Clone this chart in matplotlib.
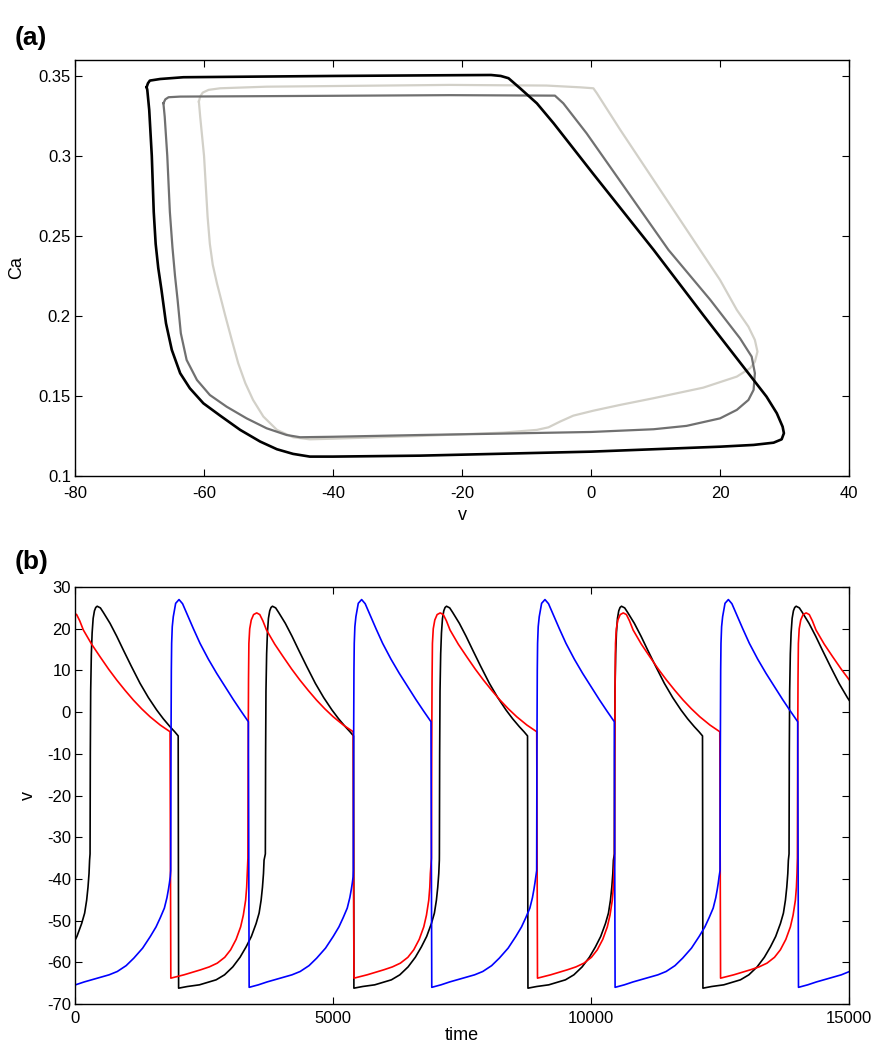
import numpy as np
import matplotlib
matplotlib.use("Agg")
from matplotlib import pyplot

pyplot.rcParams['font.family'] = ['Liberation Sans', 'DejaVu Sans']
pyplot.rcParams['axes.unicode_minus'] = False

# ---- panel (a): limit cycles in the (v, Ca) plane, read clockwise from the top-left corner ----
black_loop_v = [-68.9, -68.7, -68.4, -66.8, -63.2, -40.0, -20.0, -15.5, -14.0, -12.8, -11.0,
                -8.4, -5.8, 0.3, 9.7, 17.5, 25.2, 27.2, 28.8, 29.7, 29.9, 29.55, 28.3, 25.2,
                20.0, 9.7, 0.0, -26.5, -40.0, -43.6, -46.2, -48.7, -51.3, -54.4, -57.5, -60.1,
                -62.2, -63.7, -65.0, -65.9, -66.6, -67.1, -67.5, -67.8, -68.1, -68.5, -68.8,
                -68.9]
black_loop_ca = [0.3430, 0.3454, 0.3471, 0.3481, 0.3492, 0.3500, 0.3505, 0.3506, 0.3500, 0.3486,
                 0.3423, 0.3329, 0.3204, 0.289, 0.2413, 0.200, 0.160, 0.1496, 0.1392, 0.1308,
                 0.1267, 0.1229, 0.1208, 0.1194, 0.1183, 0.1167, 0.1152, 0.1127, 0.1121, 0.1121,
                 0.1138, 0.1167, 0.1215, 0.1288, 0.1377, 0.1454, 0.1548, 0.1642, 0.1788, 0.1954,
                 0.2163, 0.230, 0.245, 0.265, 0.300, 0.3288, 0.3413, 0.3430]

dark_loop_v = [-66.3, -66.0, -65.5, -63.7, -40.0, -21.9, -5.6, -4.3, -3.3, -0.7, 12.0, 18.5,
               23.1, 24.9, 25.4, 25.2, 24.4, 22.6, 20.0, 14.8, 9.7, 0.0, -16.2, -26.5, -40.0,
               -45.1, -47.2, -50.3, -53.4, -56.5, -59.1, -61.1, -62.7, -63.6, -64.1, -64.5,
               -64.9, -65.3, -65.7, -66.1, -66.3]
dark_loop_ca = [0.3329, 0.3354, 0.3367, 0.3371, 0.3376, 0.3380, 0.3377, 0.3329, 0.3277, 0.3142,
                0.2413, 0.210, 0.186, 0.1746, 0.1642, 0.1538, 0.1475, 0.1413, 0.1360, 0.1313,
                0.1292, 0.1275, 0.1263, 0.1256, 0.1245, 0.1242, 0.1256, 0.1298, 0.1360, 0.1433,
                0.1506, 0.1600, 0.1725, 0.1892, 0.210, 0.225, 0.243, 0.265, 0.300, 0.3246, 0.3329]

light_loop_v = [-60.8, -60.6, -60.2, -59.3, -57.5, -50.3, -21.9, -6.9, -1.7, 0.36, 0.9, 4.5,
                16.9, 20.0, 22.6, 24.4, 25.4, 25.8, 25.4, 24.65, 22.6, 17.4, 9.7, 4.5, 0.36,
                -2.75, -4.8, -6.6, -8.4, -13.6, -26.5, -40.0, -43.6, -46.2, -48.7, -50.8, -52.4,
                -53.6, -54.7, -55.7, -56.7, -58.0, -58.65, -59.1, -59.45, -60.0, -60.6, -60.8]
light_loop_ca = [0.3340, 0.3371, 0.3396, 0.3413, 0.3423, 0.3433, 0.3444, 0.3440, 0.3429, 0.3423,
                 0.3392, 0.3165, 0.2413, 0.2225, 0.2038, 0.1933, 0.1850, 0.1777, 0.1714, 0.1673,
                 0.1621, 0.1552, 0.1486, 0.1444, 0.1408, 0.1377, 0.1340, 0.1304, 0.1288, 0.1271,
                 0.1250, 0.1233, 0.1229, 0.1242, 0.1288, 0.1371, 0.1475, 0.1580, 0.1704, 0.1850,
                 0.200, 0.2204, 0.232, 0.245, 0.262, 0.300, 0.3246, 0.3340]

# ---- panel (b): one spike cycle per trace (ms after upstroke, mV) and upstroke times (ms) ----
black_cycle_t = [0, 5, 12, 25, 40, 60, 85, 110, 138, 200, 258, 387, 517, 645, 800, 969, 1130,
                 1292, 1420, 1550, 1640, 1708, 1716, 1886, 2120, 2443, 2606, 2766, 2906, 3024,
                 3126, 3218, 3276, 3315, 3341, 3361, 3372]
black_cycle_v = [-34, -10, 5, 14, 19, 22.5, 24.3, 25.1, 25.4, 25.0, 23.9, 21.3, 18.2, 14.9, 11.0,
                 6.9, 3.5, 0.5, -1.6, -3.5, -4.7, -5.7, -66.2, -65.8, -65.4, -64.2, -63.0, -61.1,
                 -58.8, -56.3, -53.8, -50.7, -48.2, -45.1, -42.0, -38.7, -35.5]
black_upstrokes = [-3090, 291, 3688, 7061, 10452, 13837]

red_cycle_t = [0, 5, 12, 19, 35, 65, 110, 170, 230, 290, 360, 520, 683, 850, 1007, 1170, 1329,
               1490, 1652, 1850, 2040, 2055, 2310, 2632, 2800, 2955, 3100, 3214, 3320, 3408,
               3460, 3505, 3525, 3536]
red_cycle_v = [-35, -10, 8, 16.5, 20.0, 22.1, 23.4, 23.8, 23.4, 21.9, 19.7, 16.3, 13.3, 10.3,
               7.7, 5.2, 2.9, 0.8, -1.1, -3.1, -4.7, -63.8, -63.0, -61.8, -61.1, -60.2, -58.8,
               -57.0, -54.5, -51.5, -48.7, -45.1, -42.0, -38.7]
red_upstrokes = [-199, 3350, 6907, 10455, 13999]

blue_cycle_t = [0, 5, 12, 18, 30, 50, 96, 161, 230, 310, 440, 568, 730, 891, 1050, 1214, 1360,
                1505, 1520, 1699, 1869, 2179, 2350, 2509, 2680, 2829, 3000, 3149, 3260, 3342,
                3421, 3471, 3500, 3519, 3535]
blue_cycle_v = [-38, -10, 10, 16.5, 20.5, 22.9, 26.1, 27.0, 26.0, 23.7, 20.0, 16.5, 12.7, 9.3,
                6.2, 3.0, 0.3, -2.3, -66.0, -65.4, -64.7, -63.6, -63.0, -62.2, -60.8, -59.0,
                -56.6, -53.8, -51.5, -49.3, -47.0, -44.5, -42.5, -41.0, -39.5]
blue_upstrokes = [-1690, 1854, 5393, 8946, 12500]


def place_cycles(upstrokes, cyc_t, cyc_v):
    '''put one copy of the cycle at every upstroke, cut at the next one'''
    ts, vs = [], []
    for i, u in enumerate(upstrokes):
        end = upstrokes[i + 1] if i + 1 < len(upstrokes) else np.inf
        for t, v in zip(cyc_t, cyc_v):
            if u + t < end:
                ts.append(u + t)
                vs.append(v)
    return ts, vs


def style_axes(ax, xpad):
    ax.tick_params(direction='in', top=True, right=True, length=5, width=0.8,
                   labelsize=12, colors='black')
    ax.tick_params(axis='x', pad=xpad)
    ax.tick_params(axis='y', pad=3)
    for s in ax.spines.values():
        s.set_linewidth(1.0)


fig = pyplot.figure(figsize=(8.86, 10.5), dpi=100)

ax_a = fig.add_axes([0.0847, 0.5467, 0.8736, 0.3962])
ax_a.plot(light_loop_v, light_loop_ca, color='#d2d0c8', lw=1.6, solid_joinstyle='round')
ax_a.plot(dark_loop_v, dark_loop_ca, color='#707070', lw=1.6, solid_joinstyle='round')
ax_a.plot(black_loop_v, black_loop_ca, color='black', lw=1.9, solid_joinstyle='round')
ax_a.set_xlim(-80, 40)
ax_a.set_ylim(0.1, 0.36)
ax_a.set_xticks([-80, -60, -40, -20, 0, 20, 40])
ax_a.set_yticks([0.1, 0.15, 0.2, 0.25, 0.3, 0.35])
ax_a.set_yticklabels(['0.1', '0.15', '0.2', '0.25', '0.3', '0.35'])
style_axes(ax_a, 7.5)
ax_a.set_xlabel('v', fontsize=13)
ax_a.set_ylabel('Ca', fontsize=13)
ax_a.xaxis.set_label_coords(0.5, -0.0755)
ax_a.yaxis.set_label_coords(-0.0646, 0.5)

ax_b = fig.add_axes([0.0847, 0.0438, 0.8736, 0.3971])
for ups, ct, cv, col in [(black_upstrokes, black_cycle_t, black_cycle_v, 'black'),
                         (red_upstrokes, red_cycle_t, red_cycle_v, '#ff0000'),
                         (blue_upstrokes, blue_cycle_t, blue_cycle_v, '#0000ff')]:
    tt, vv = place_cycles(ups, ct, cv)
    ax_b.plot(tt, vv, color=col, lw=1.2, solid_joinstyle='round')
ax_b.set_xlim(0, 15000)
ax_b.set_ylim(-70, 30)
ax_b.set_xticks([0, 5000, 10000, 15000])
ax_b.set_yticks(range(-70, 31, 10))
style_axes(ax_b, 5)
ax_b.set_xlabel('time', fontsize=13)
ax_b.set_ylabel('v', fontsize=13)
ax_b.xaxis.set_label_coords(0.5, -0.0544)
ax_b.yaxis.set_label_coords(-0.0497, 0.5)

fig.text(15 / 886, 1 - 44.5 / 1050, '(a)', fontsize=19, fontweight='bold', va='baseline')
fig.text(15 / 886, 1 - 569.5 / 1050, '(b)', fontsize=19, fontweight='bold', va='baseline')

pyplot.savefig('out.png', dpi=100)
